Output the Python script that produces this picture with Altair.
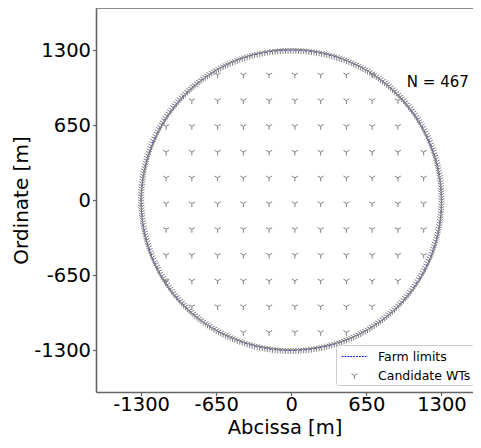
import altair as alt
import numpy as np
import pandas as pd

# ---- data ----
farm_radius = 1300          # m
n_total = 467
n_boundary = 363            # candidate WTs placed on the farm limit

# interior grid rows (y, m) and the columns (x, m) present in each row
grid_rows = {
    1087: [-638, -415, -192, 31, 254, 477, 700],
    864: [-861, -638, -415, -192, 31, 254, 477, 700, 923],
    641: [-1084, -861, -638, -415, -192, 31, 254, 477, 700, 923],
    418: [-1084, -861, -638, -415, -192, 31, 254, 477, 700, 923, 1146],
    195: [-1084, -861, -638, -415, -192, 31, 254, 477, 700, 923, 1146],
    -28: [-1084, -861, -638, -415, -192, 31, 254, 477, 700, 923, 1146],
    -251: [-1084, -861, -638, -415, -192, 31, 254, 477, 700, 923, 1146],
    -474: [-1084, -861, -638, -415, -192, 31, 254, 477, 700, 923, 1146],
    -697: [-1084, -861, -638, -415, -192, 31, 254, 477, 700, 923],
    -920: [-861, -638, -415, -192, 31, 254, 477, 700],
    -1143: [-415, -192, 31, 254, 477],
}
tick_values = [-1300, -650, 0, 650, 1300]
series_names = ["Farm limits", "Candidate WTs"]
series_colors = ["blue", "grey"]

# ---- tables ----
gx, gy = [], []
for yv, xs in grid_rows.items():
    for xv in xs:
        gx.append(xv)
        gy.append(yv)
ang_b = np.linspace(0, 2 * np.pi, n_boundary, endpoint=False)
pts = pd.DataFrame({
    "x": list(gx) + list(farm_radius * np.cos(ang_b)),
    "y": list(gy) + list(farm_radius * np.sin(ang_b)),
    "series": "Candidate WTs",
})

ang_l = np.linspace(0, 2 * np.pi, 721)
circ = pd.DataFrame({
    "x": farm_radius * np.cos(ang_l),
    "y": farm_radius * np.sin(ang_l),
    "o": np.arange(len(ang_l)),
    "series": "Farm limits",
})

note = pd.DataFrame({"x": [1000], "y": [1028], "t": [f"N = {n_total}"]})

# ---- symbols ----
TRI = "M0,0L0,0.44M0,0L-0.38,-0.22M0,0L0.38,-0.22"
segs = []
s = -1.6
while s < 1.6:
    e = min(s + 0.22, 1.6)
    segs.append(f"M{s:.3f},0H{e:.3f}")
    s += 0.36
DASH = "".join(segs)

W, H = 377, 384
xs = alt.Scale(domain=[-1691, 1573], nice=False, zero=False)
ys = alt.Scale(domain=[-1660, 1665], nice=False, zero=False)


def make_legend():
    return alt.Legend(title=None, orient="none", legendX=240, legendY=337,
                      fillColor="white", strokeColor="#cccccc", cornerRadius=3,
                      padding=3, labelFontSize=12.5, symbolSize=256,
                      symbolStrokeWidth=1, symbolOffset=7, labelOffset=15,
                      rowPadding=4)


color = alt.Color("series:N",
                  scale=alt.Scale(domain=series_names, range=series_colors),
                  legend=make_legend())
shape = alt.Shape("series:N", scale=alt.Scale(domain=series_names, range=[DASH, TRI]),
                  legend=make_legend())

xenc = alt.X("x:Q", scale=xs, axis=alt.Axis(values=tick_values, title="Abcissa [m]",
                                            labelExpr="datum.value", titleY=41,
                                            titleBaseline="alphabetic", labelPadding=0,
                                            titleFontSize=19.5))
yenc = alt.Y("y:Q", scale=ys, axis=alt.Axis(values=tick_values, title="Ordinate [m]",
                                            labelExpr="datum.value"))

line = alt.Chart(circ).mark_line(strokeWidth=1, strokeDash=[3, 2]).encode(
    x=xenc, y=yenc, order="o:Q", color=color)

points = alt.Chart(pts).mark_point(filled=False, size=256, strokeWidth=1, opacity=1).encode(
    x="x:Q", y="y:Q", color=color, shape=shape)

text = alt.Chart(note).mark_text(align="left", baseline="middle", fontSize=15,
                                 font="DejaVu Sans", color="black").encode(
    x="x:Q", y="y:Q", text="t:N")

top = alt.Chart(pd.DataFrame({"a": [0]})).mark_rule(color="#666666", strokeWidth=1.6).encode(
    x=alt.value(0), x2=alt.value(W), y=alt.value(0))

chart = alt.layer(line, points, text, top).properties(
    width=W, height=H,
    autosize=alt.AutoSizeParams(type="none"),
    padding={"left": 88, "top": 0, "right": 0, "bottom": 46},
).configure(font="DejaVu Sans").configure_view(strokeWidth=0, stroke="transparent").configure_axis(
    labelFontSize=19.5, titleFontSize=20, titleFontWeight="normal",
    labelColor="black", titleColor="black", domainColor="#666666", domainWidth=1.6,
    tickColor="#666666", tickSize=3.5, tickWidth=1.2, grid=False, labelPadding=2,
    titlePadding=2,
).configure_legend(labelColor="black")

chart.save("out.html", embed_options={"renderer": "svg", "actions": False})
